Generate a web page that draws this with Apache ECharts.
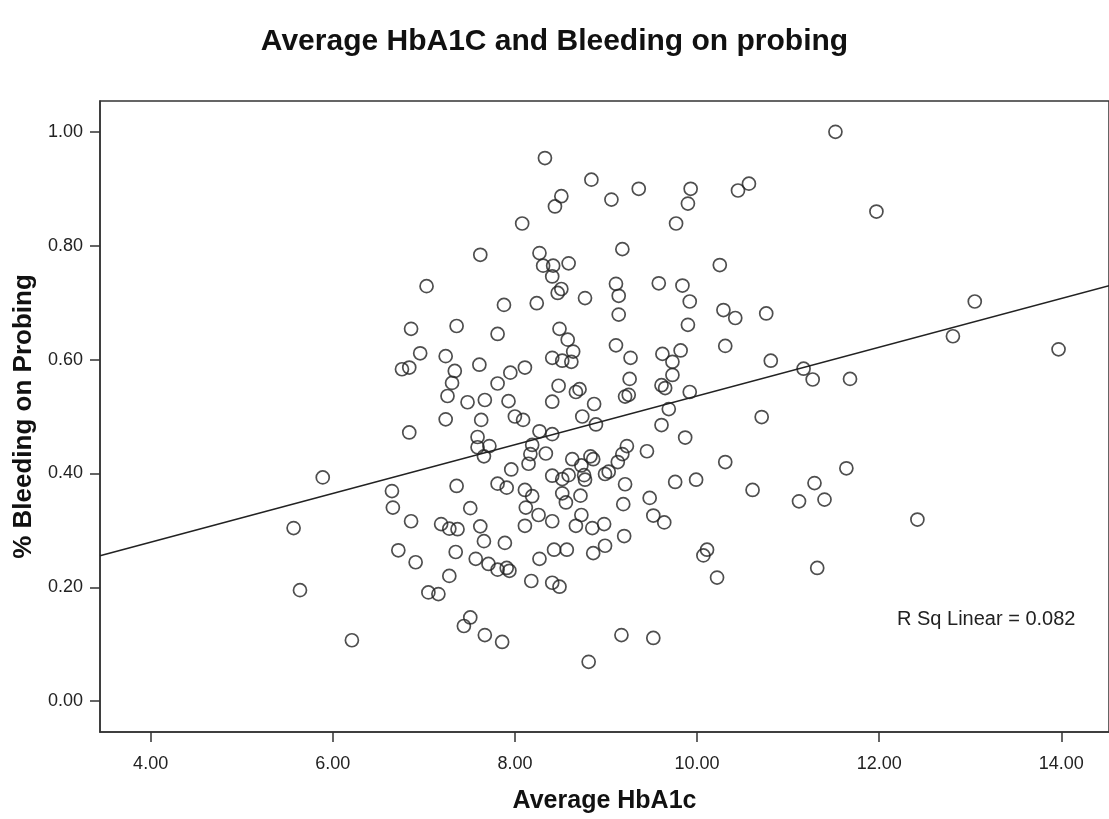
<!DOCTYPE html>
<html>
<head>
<meta charset="utf-8">
<script src="https://cdn.jsdelivr.net/npm/echarts@6/dist/echarts.min.js"></script>
<style>
  html, body { margin: 0; padding: 0; background: #fff; }
  #chart { width: 1109px; height: 819px; }
</style>
</head>
<body>
<div id="chart"></div>
<script>
// Average HbA1c per patient (x) and share of sites bleeding on probing (y)
const hba1c = [
  5.89, 5.57, 5.64, 6.21, 8.33, 8.84, 8.51, 8.44, 9.06, 8.08,
  9.18, 7.62, 8.27, 8.31, 8.42, 8.59, 8.41, 7.03, 8.51, 8.47,
  8.77, 9.11, 9.14, 9.14, 7.88, 8.24, 6.86, 7.36, 7.81, 8.49,
  8.58, 8.64, 8.41, 8.52, 8.62, 9.11, 6.96, 7.24, 6.76, 6.84,
  7.34, 7.61, 7.95, 8.11, 7.31, 7.81, 7.26, 7.48, 7.67, 7.93,
  8.48, 8.67, 8.71, 8.41, 8.87, 7.24, 7.63, 8.00, 8.09, 8.74,
  8.89, 6.84, 7.59, 8.27, 8.41, 7.59, 7.72, 7.66, 8.19, 8.17,
  8.34, 8.15, 7.96, 8.63, 8.73, 8.83, 8.86, 8.76, 8.77, 8.59,
  8.41, 8.52, 8.99, 9.03, 9.13, 9.18, 9.23, 9.21, 6.65, 6.66,
  7.36, 7.81, 7.91, 8.11, 8.19, 8.12, 7.51, 8.52, 8.56, 8.72,
  8.73, 8.26, 8.41, 6.86, 7.19, 7.28, 7.37, 7.62, 8.11, 8.67,
  8.98, 9.19, 7.66, 7.89, 8.85, 9.20, 6.72, 6.91, 7.35, 7.57,
  7.71, 7.81, 7.91, 7.94, 8.43, 8.57, 8.27, 8.86, 8.99, 7.28,
  8.18, 8.41, 8.49, 7.05, 7.16, 7.51, 7.44, 7.67, 7.86, 8.81,
  9.17, 11.52, 9.36, 9.93, 9.90, 10.45, 10.57, 9.77, 10.25, 9.58,
  9.84, 9.92, 9.90, 10.29, 10.42, 10.76, 9.27, 9.62, 9.82, 9.73,
  9.73, 10.31, 9.26, 9.25, 9.21, 9.61, 9.65, 9.92, 10.81, 11.17,
  11.27, 11.68, 9.69, 9.61, 9.87, 10.71, 9.45, 9.76, 9.99, 10.31,
  10.61, 11.64, 11.29, 11.12, 11.40, 9.48, 9.52, 9.64, 10.11, 10.07,
  10.22, 11.32, 9.52, 11.97, 13.05, 12.81, 13.97, 12.42
];
const bleeding = [
  0.393, 0.304, 0.195, 0.107, 0.954, 0.916, 0.887, 0.869, 0.881, 0.839,
  0.794, 0.784, 0.787, 0.765, 0.765, 0.769, 0.746, 0.729, 0.724, 0.717,
  0.708, 0.733, 0.712, 0.679, 0.696, 0.699, 0.654, 0.659, 0.645, 0.654,
  0.635, 0.614, 0.603, 0.598, 0.596, 0.625, 0.611, 0.606, 0.583, 0.586,
  0.580, 0.591, 0.577, 0.586, 0.559, 0.558, 0.536, 0.525, 0.529, 0.527,
  0.554, 0.543, 0.548, 0.526, 0.522, 0.495, 0.494, 0.500, 0.494, 0.500,
  0.486, 0.472, 0.464, 0.474, 0.469, 0.446, 0.448, 0.430, 0.450, 0.434,
  0.435, 0.417, 0.407, 0.425, 0.414, 0.430, 0.425, 0.397, 0.389, 0.397,
  0.396, 0.390, 0.399, 0.403, 0.420, 0.434, 0.448, 0.381, 0.369, 0.340,
  0.378, 0.382, 0.375, 0.371, 0.360, 0.340, 0.339, 0.365, 0.349, 0.361,
  0.327, 0.327, 0.316, 0.316, 0.311, 0.303, 0.302, 0.307, 0.308, 0.308,
  0.311, 0.346, 0.281, 0.278, 0.304, 0.290, 0.265, 0.244, 0.262, 0.250,
  0.241, 0.231, 0.234, 0.229, 0.266, 0.266, 0.250, 0.260, 0.273, 0.220,
  0.211, 0.208, 0.201, 0.191, 0.188, 0.147, 0.132, 0.116, 0.104, 0.069,
  0.116, 1.000, 0.900, 0.900, 0.874, 0.897, 0.909, 0.839, 0.766, 0.734,
  0.730, 0.702, 0.661, 0.687, 0.673, 0.681, 0.603, 0.610, 0.616, 0.596,
  0.573, 0.624, 0.566, 0.538, 0.535, 0.555, 0.550, 0.543, 0.598, 0.584,
  0.565, 0.566, 0.513, 0.485, 0.463, 0.499, 0.439, 0.385, 0.389, 0.420,
  0.371, 0.409, 0.383, 0.351, 0.354, 0.357, 0.326, 0.314, 0.266, 0.256,
  0.217, 0.234, 0.111, 0.860, 0.702, 0.641, 0.618, 0.319
];

// Linear fit line: bleeding = fitIntercept + fitSlope * hba1c
const fitIntercept = 0.108;
const fitSlope = 0.0428;
const rSquaredLabel = 'R Sq Linear = 0.082';

const xTicks = [4, 6, 8, 10, 12, 14];
const yTicks = [0, 0.2, 0.4, 0.6, 0.8, 1.0];

const xMin = 3.444, xMax = 14.524;
const yMin = -0.0542, yMax = 1.0542;

const points = hba1c.map((x, i) => [x, bleeding[i]]);
const fitLine = [xMin, xMax].map(x => [x, fitIntercept + fitSlope * x]);

const chart = echarts.init(document.getElementById('chart'), null, { renderer: 'canvas' });
const font = '"Liberation Sans", Arial, sans-serif';

chart.setOption({
  animation: false,
  backgroundColor: '#ffffff',
  title: {
    text: 'Average HbA1C and Bleeding on probing',
    left: 'center',
    top: 22,
    textStyle: { fontFamily: font, fontSize: 30, fontWeight: 'bold', color: '#111' }
  },
  grid: {
    left: 100, top: 101, width: 1011, height: 634,
    show: true, borderColor: '#333', borderWidth: 1.5, backgroundColor: '#fff'
  },
  xAxis: {
    type: 'value', min: xMin, max: xMax,
    name: 'Average HbA1c', nameLocation: 'middle', nameGap: 57,
    nameTextStyle: { fontFamily: font, fontSize: 25, fontWeight: 'bold', color: '#111' },
    axisLine: { show: true, onZero: false, lineStyle: { color: '#333', width: 1.5 } },
    axisTick: { show: true, customValues: xTicks, length: 10, lineStyle: { color: '#333', width: 1.5 } },
    axisLabel: {
      customValues: xTicks, margin: 23,
      formatter: v => v.toFixed(2),
      fontFamily: font, fontSize: 18, color: '#222'
    },
    splitLine: { show: false }
  },
  yAxis: {
    type: 'value', min: yMin, max: yMax,
    name: '% Bleeding on Probing', nameLocation: 'middle', nameGap: 62, nameRotate: 90,
    nameTextStyle: { fontFamily: font, fontSize: 26, fontWeight: 'bold', color: '#111' },
    axisLine: { show: true, onZero: false, lineStyle: { color: '#333', width: 1.5 } },
    axisTick: { show: true, customValues: yTicks, length: 10, lineStyle: { color: '#333', width: 1.5 } },
    axisLabel: {
      customValues: yTicks, margin: 17,
      formatter: v => v.toFixed(2),
      fontFamily: font, fontSize: 18, color: '#222'
    },
    splitLine: { show: false }
  },
  graphic: [{
    type: 'text', left: 897, top: 609, z: 100,
    style: { text: rSquaredLabel, font: '20px ' + font, fill: '#222' }
  }],
  series: [
    {
      type: 'scatter',
      data: points,
      symbol: 'circle',
      symbolSize: 13,
      itemStyle: { color: 'rgba(255,255,255,0)', borderColor: '#222', borderWidth: 1.7 },
      emphasis: { disabled: true },
      z: 3
    },
    {
      type: 'line',
      data: fitLine,
      symbol: 'none',
      lineStyle: { color: '#222', width: 1.6 },
      emphasis: { disabled: true },
      z: 2
    }
  ]
});
</script>
</body>
</html>
